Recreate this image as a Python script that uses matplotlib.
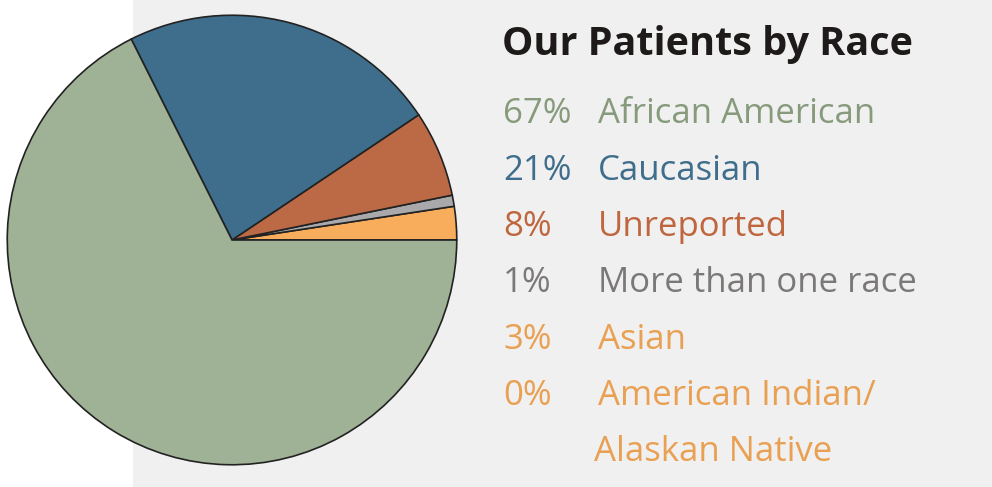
import matplotlib
matplotlib.use("Agg")
import matplotlib.pyplot as plt
from matplotlib.patches import Rectangle

# ---------------- data ----------------
races = ["American Indian/\nAlaskan Native", "Asian", "More than one race",
         "Unreported", "Caucasian", "African American"]
shares = [0.0, 2.4, 0.8, 6.2, 23.0, 67.6]       # wedge sizes
pct_labels = ["0%", "3%", "1%", "8%", "21%", "67%"]
wedge_colors = ["#f8ad5d", "#f8ad5d", "#a9a9ab", "#bc6a45", "#3e6e8c", "#9fb296"]
text_colors = ["#e9a052", "#e9a052", "#7b7878", "#c0663f", "#3f6e8c", "#879b7c"]

W, H = 992, 487
fig = plt.figure(figsize=(W / 100, H / 100), dpi=100)
fig.patch.set_facecolor("white")

# gray panel right of x=133, on its own background axes
bg = fig.add_axes([0, 0, 1, 1], zorder=0)
bg.add_patch(Rectangle((133 / W, 0), 1 - 133 / W, 1, facecolor="#f0f0f0", edgecolor="none"))
bg.set_xlim(0, 1)
bg.set_ylim(0, 1)
bg.axis("off")

# pie axes: centre (232, 240) px, radius 227 px
cx, cy, r = 232, 240, 227
ax = fig.add_axes([(cx - r) / W, (H - cy - r) / H, 2 * r / W, 2 * r / H], zorder=1)
ax.set_facecolor("none")
ax.pie(shares, colors=wedge_colors, startangle=0, counterclock=True, radius=1,
       wedgeprops=dict(edgecolor="#222222", linewidth=1.2))
ax.set_xlim(-1.01, 1.01)
ax.set_ylim(-1.01, 1.01)
ax.set_aspect("auto")
ax.axis("off")


def px(x, y):
    return x / W, 1 - y / H


fig.text(*px(502, 45), "Our Patients by Race", fontsize=28.5, fontweight="bold",
         family="Open Sans", color="#1e1a1a", va="center", ha="left", zorder=3)

FS = 25
# legend rows, top to bottom
order = [5, 4, 3, 2, 1, 0]
row_y = [114, 171, 227, 283, 340, 396]
for i, y in zip(order, row_y):
    fig.text(*px(503, y), pct_labels[i], fontsize=FS, family="Open Sans",
             color=text_colors[i], va="center", ha="left", zorder=3)
    label = races[i].split("\n")
    fig.text(*px(598, y), label[0], fontsize=FS, family="Open Sans",
             color=text_colors[i], va="center", ha="left", zorder=3)
    if len(label) > 1:
        fig.text(*px(594, y + 56), label[1], fontsize=FS, family="Open Sans",
                 color=text_colors[i], va="center", ha="left", zorder=3)

fig.savefig("out.png", dpi=100)
